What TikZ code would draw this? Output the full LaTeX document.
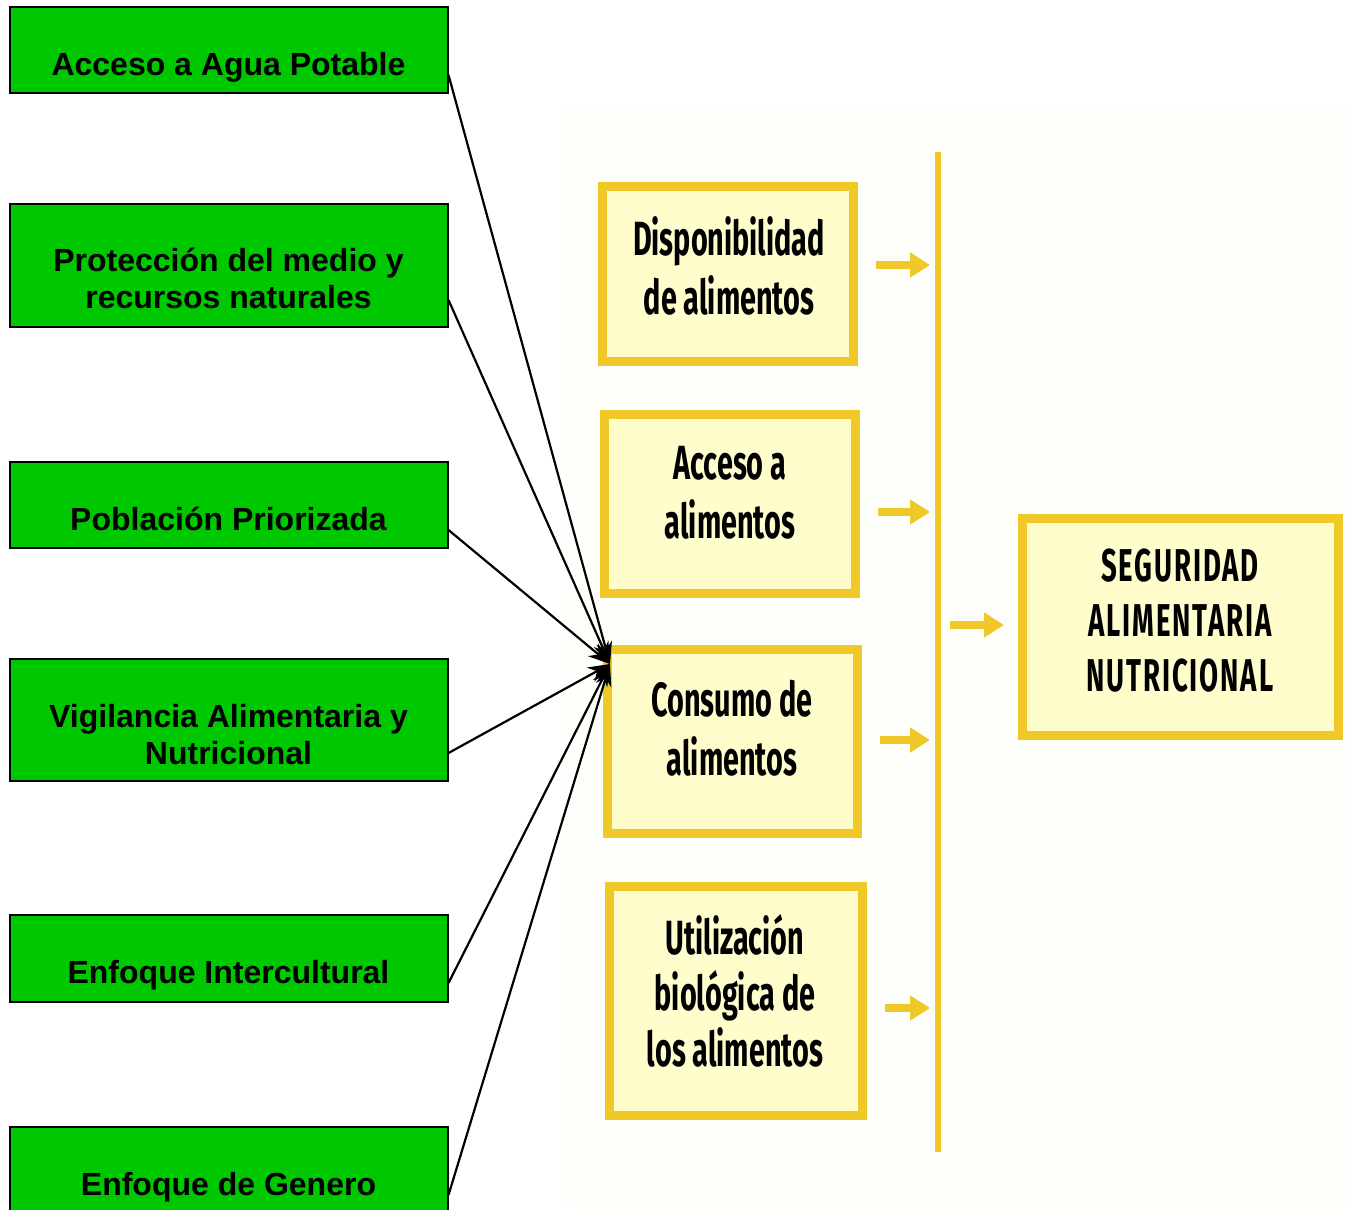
\documentclass[tikz,border=0pt]{standalone}
\usepackage{fontspec}
\setmainfont{Liberation Sans}
\newfontfamily\condfont[FakeStretch=0.6]{Fira Sans}
\usetikzlibrary{arrows.meta}
\definecolor{verde}{RGB}{0,200,0}
\definecolor{oro}{RGB}{240,200,40}
\definecolor{crema}{RGB}{255,253,204}
\definecolor{fondo}{RGB}{254,254,250}

\begin{document}
\begin{tikzpicture}
  [x=0.5pt,y=-0.5pt,
    gbox/.style={draw=black,line width=1pt,fill=verde,minimum width=219pt,inner sep=0pt},
    gtext/.style={font=\bfseries\fontsize{16}{18.5}\selectfont,align=center,inner sep=0pt,anchor=base},
    ybox/.style={draw=oro,line width=4.5pt,fill=crema,inner sep=0pt},
    ytext/.style={font=\condfont\bfseries\fontsize{24}{29.5}\selectfont,align=center,inner sep=0pt},
    feed/.style={draw=black,line width=1.1pt,-{Stealth[length=11pt,width=8pt]}},
    yarrow/.style={draw=oro,line width=4pt,-{Triangle[length=10pt,width=12pt]},
      shorten <=9pt,shorten >=4pt},
  ]
  \useasboundingbox (0,0) rectangle (1348,1209);
  \fill[fondo] (565,105) rectangle (1348,1209);

  % factores
  \node[gbox,minimum height=43pt] (agua) at (228.5,50.5) {};
  \node[gtext] (agua-t) at (228.5,76) {Acceso a Agua Potable};
  \node[gbox,minimum height=61pt] (medio) at (228.5,265.5) {};
  \node[gtext] (medio-t) at (228.5,308) {Protección del medio y\\recursos naturales};
  \node[gbox,minimum height=43pt] (pobl) at (228.5,504.5) {};
  \node[gtext] (pobl-t) at (228.5,530) {Población Priorizada};
  \node[gbox,minimum height=61pt] (vigil) at (228.5,719.5) {};
  \node[gtext] (vigil-t) at (228.5,764) {Vigilancia Alimentaria y\\Nutricional};
  \node[gbox,minimum height=43.5pt] (inter) at (228.5,958) {};
  \node[gtext] (inter-t) at (228.5,983) {Enfoque Intercultural};
  \node[gbox,minimum height=44pt] (genero) at (228.5,1171) {};
  \node[gtext] (genero-t) at (228.5,1195) {Enfoque de Genero};

  % pilares
  \node[ybox,minimum width=125.5pt,minimum height=87.5pt] (disp) at (728,274) {};
  \node[ytext] (disp-t) at (729,266) {Disponibilidad\\de alimentos};
  \node[ybox,minimum width=125.5pt,minimum height=89.5pt] (acceso) at (730,504) {};
  \node[ytext] (acceso-t) at (730,493) {Acceso a\\alimentos};
  \node[ybox,minimum width=125pt,minimum height=92pt] (cons) at (732.5,741.5) {};
  \node[ytext] (cons-t) at (732,728) {Consumo de\\alimentos};
  \node[ybox,minimum width=126.5pt,minimum height=114.5pt] (util) at (736,1001) {};
  \node[ytext,font=\condfont\bfseries\fontsize{24}{28}\selectfont] (util-t) at (735,991)
    {Utilización\\biológica de\\los alimentos};
  \node[ybox,minimum width=158pt,minimum height=108.5pt] (segur) at (1180,627) {};
  \node[ytext,font=\condfont\bfseries\fontsize{23}{27.5}\selectfont\addfontfeature{LetterSpace=4}]
    (segur-t) at (1180,621) {SEGURIDAD\\ALIMENTARIA\\NUTRICIONAL};

  \coordinate (bartop) at (938,152);
  \coordinate (barbot) at (938,1152);
  \draw[oro,line width=3pt] (bartop) -- (barbot);

  \draw[yarrow] (disp.east |- 0,265) -- (bartop |- 0,265);
  \draw[yarrow] (acceso.east |- 0,512) -- (bartop |- 0,512);
  \draw[yarrow] (cons.east |- 0,740) -- (bartop |- 0,740);
  \draw[yarrow] (util.east |- 0,1008) -- (bartop |- 0,1008);
  \draw[yarrow,shorten <=6pt,shorten >=6.75pt] (bartop |- 0,625) -- (segur.west |- 0,625);

  % flechas hacia el consumo
  \coordinate (cons-in) at (610,664);
  \draw[feed] (agua.east |- 0,75) -- (cons-in);
  \draw[feed] (medio.east |- 0,300) -- (cons-in);
  \draw[feed] (pobl.east |- 0,530) -- (cons-in);
  \draw[feed] (vigil.east |- 0,753) -- (cons-in);
  \draw[feed] (inter.east |- 0,983) -- (cons-in);
  \draw[feed] (genero.east |- 0,1195) -- (cons-in);
\end{tikzpicture}
\end{document}
